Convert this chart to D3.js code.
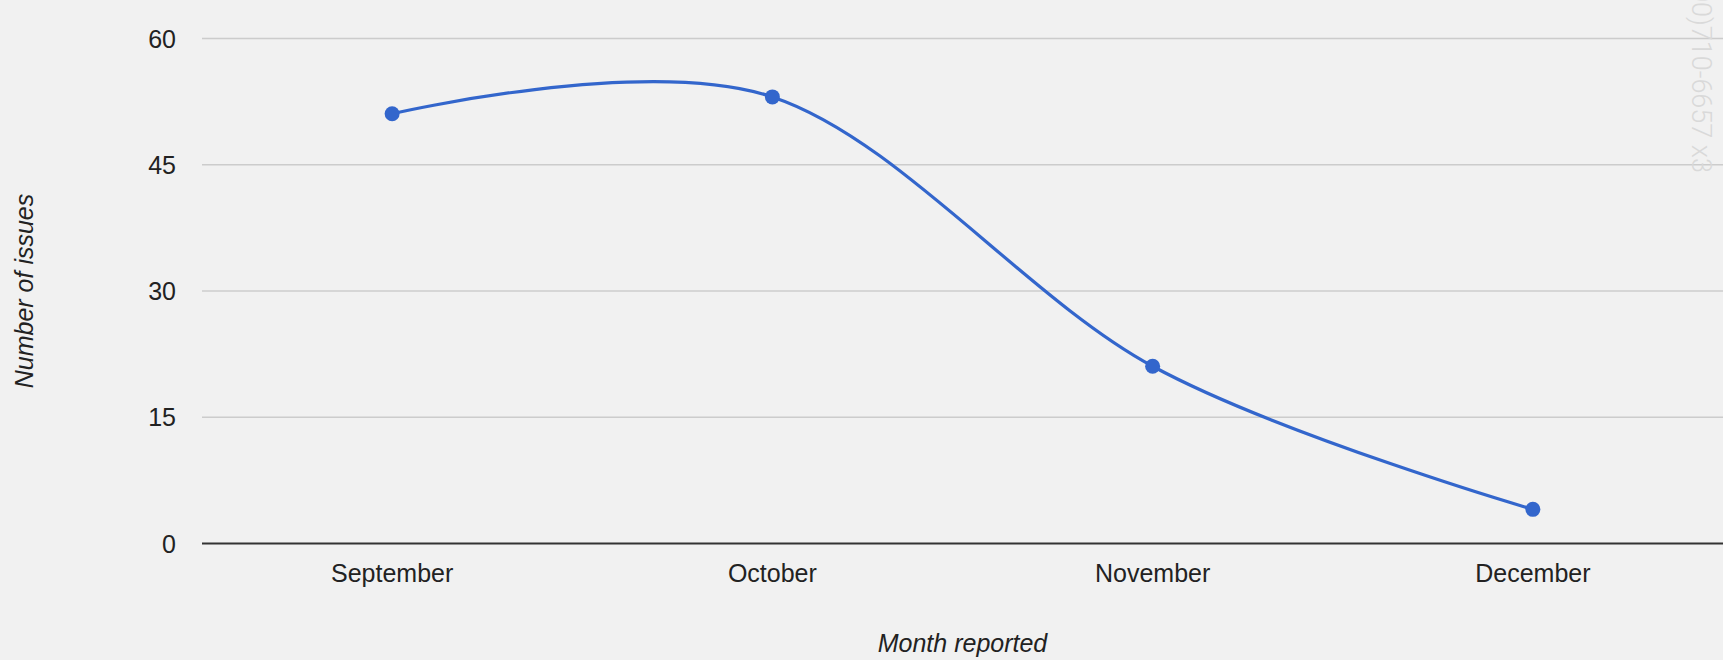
<!DOCTYPE html>
<html>
<head>
<meta charset="utf-8">
<script src="https://cdnjs.cloudflare.com/ajax/libs/d3/7.8.5/d3.min.js"></script>
<style>
  html, body { margin: 0; padding: 0; background: #f1f1f1; overflow: hidden; }
  svg { display: block; font-family: "Liberation Sans", Arial, sans-serif; }
</style>
</head>
<body>
<svg></svg>
<script>
var months = ["September", "October", "November", "December"];
var issues = [51, 53, 21, 4];
var yTicks = [0, 15, 30, 45, 60];

var margin = { top: 38, right: 0, bottom: 117, left: 202 },
  width = 1723 - margin.left - margin.right,
  height = 660 - margin.top - margin.bottom;

var svg = d3.select("svg")
  .attr("width", width + margin.left + margin.right)
  .attr("height", height + margin.top + margin.bottom);

var g = svg.append("g")
  .attr("transform", "translate(" + margin.left + "," + margin.top + ")");

var x = d3.scaleBand().domain(months).range([0, width]);
var y = d3.scaleLinear().domain([0, 60]).range([height, 0]);

// gridlines + y labels
var yAxis = g.append("g")
  .call(d3.axisLeft(y).tickValues(yTicks).tickSize(-width).tickPadding(26));
yAxis.select(".domain").remove();
yAxis.selectAll(".tick line")
  .attr("stroke", function(d) { return d === 0 ? "#333" : "#cccccc"; })
  .attr("stroke-width", function(d) { return d === 0 ? 2 : 1.3; });
yAxis.selectAll(".tick text")
  .attr("fill", "#222")
  .style("font-size", "25px")
  .attr("dy", "0.36em");

// x labels
var xAxis = g.append("g")
  .attr("transform", "translate(0," + height + ")")
  .call(d3.axisBottom(x).tickSize(0).tickPadding(21));
xAxis.select(".domain").remove();
xAxis.selectAll(".tick text")
  .attr("fill", "#222")
  .style("font-size", "25px");

// watermark (cut off at the top and right, as in the original)
svg.append("text")
  .attr("transform", "translate(1692,173) rotate(90)")
  .attr("text-anchor", "end")
  .attr("fill", "#d9d9d9")
  .style("font-family", "Roboto, sans-serif")
  .style("font-weight", "300")
  .style("font-size", "27px")
  .text("(800)710-6657 x3");

// line
var line = d3.line()
  .x(function(d, i) { return x(months[i]) + x.bandwidth() / 2; })
  .y(function(d) { return y(d); })
  .curve(d3.curveCardinal.tension(0));

g.append("path")
  .datum(issues)
  .attr("fill", "none")
  .attr("stroke", "#3366cc")
  .attr("stroke-width", 3.2)
  .attr("d", line);

g.selectAll("circle.pt")
  .data(issues)
  .enter().append("circle")
  .attr("class", "pt")
  .attr("cx", function(d, i) { return x(months[i]) + x.bandwidth() / 2; })
  .attr("cy", function(d) { return y(d); })
  .attr("r", 7.5)
  .attr("fill", "#3366cc");

// axis titles
svg.append("text")
  .attr("transform", "translate(" + (margin.left + width / 2) + ",652)")
  .attr("text-anchor", "middle")
  .style("font-style", "italic")
  .style("font-size", "25px")
  .attr("fill", "#222")
  .text("Month reported");

svg.append("text")
  .attr("transform", "translate(33,291) rotate(-90)")
  .attr("text-anchor", "middle")
  .style("font-style", "italic")
  .style("font-size", "25px")
  .attr("fill", "#222")
  .text("Number of issues");
</script>
</body>
</html>
